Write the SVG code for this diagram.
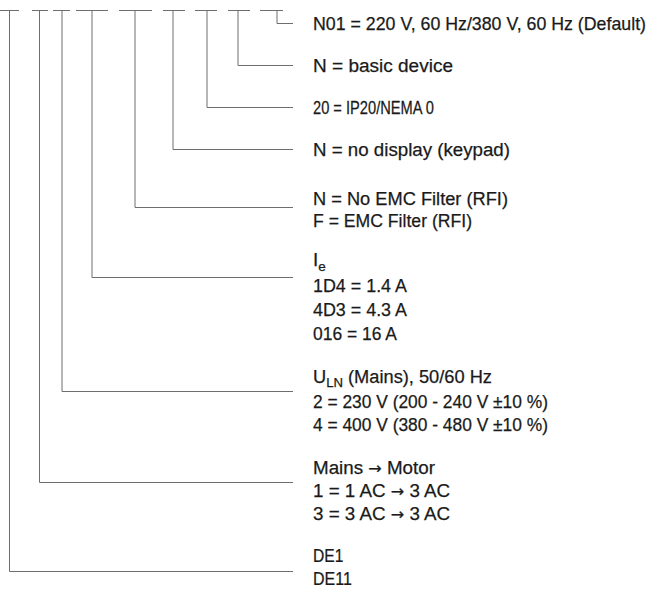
<svg xmlns="http://www.w3.org/2000/svg" width="651" height="591" viewBox="0 0 651 591">
<style>
  .ln { fill: none; stroke: #6e6e6e; stroke-width: 1; }
  .t { font-family: "Liberation Sans", Arial, sans-serif; font-size: 18.8px; fill: #1a1a1a; stroke: #1a1a1a; stroke-width: 0.25px; }
  .sm { font-size: 17.8px; }
  .sub { font-size: 13.5px; }
  .ar { font-family: "DejaVu Sans", sans-serif; font-size: 16px; }
</style>
<rect width="651" height="591" fill="#ffffff"/>
<g id="code-positions" class="ln">
  <path d="M0 10.5H19 M32 10.5H48 M53 10.5H70 M76 10.5H108 M119 10.5H152 M163 10.5H185 M195 10.5H217 M228 10.5H250 M260 10.5H283"/>
</g>
<g id="connectors" class="ln">
  <path d="M9.5 10.5V571.5H293"/>
  <path d="M39.5 10.5V482.5H293"/>
  <path d="M62 10.5V391.5H293"/>
  <path d="M92 10.5V277.5H293"/>
  <path d="M135 10.5V207.5H293"/>
  <path d="M173 10.5V149.5H293"/>
  <path d="M207 10.5V107.5H293"/>
  <path d="M238 10.5V65.5H293"/>
  <path d="M277 10.5V23.5H293"/>
</g>
<g id="voltage" class="t"><text class="sm" x="313" y="30" textLength="333" lengthAdjust="spacingAndGlyphs">N01 = 220 V, 60 Hz/380 V, 60 Hz (Default)</text></g>
<g id="version" class="t"><text x="313" y="72" textLength="140" lengthAdjust="spacingAndGlyphs">N = basic device</text></g>
<g id="protection" class="t"><text transform="translate(313 114) scale(0.78 1)">20 = IP20/NEMA 0</text></g>
<g id="display" class="t"><text x="313" y="156" textLength="197" lengthAdjust="spacingAndGlyphs">N = no display (keypad)</text></g>
<g id="emc-filter" class="t">
  <text x="313" y="205" textLength="195" lengthAdjust="spacingAndGlyphs">N = No EMC Filter (RFI)</text>
  <text x="313" y="227" textLength="159" lengthAdjust="spacingAndGlyphs">F = EMC Filter (RFI)</text>
</g>
<g id="rated-current" class="t">
  <text x="313" y="266">I<tspan class="sub" dy="5">e</tspan></text>
  <text x="313" y="292" textLength="94" lengthAdjust="spacingAndGlyphs">1D4 = 1.4 A</text>
  <text x="313" y="316" textLength="94" lengthAdjust="spacingAndGlyphs">4D3 = 4.3 A</text>
  <text x="313" y="340" textLength="84" lengthAdjust="spacingAndGlyphs">016 = 16 A</text>
</g>
<g id="mains-voltage" class="t">
  <text x="313" y="383" textLength="179" lengthAdjust="spacingAndGlyphs">U<tspan class="sub" dy="4">LN</tspan><tspan dy="-4"> (Mains), 50/60 Hz</tspan></text>
  <text x="313" y="408" textLength="235" lengthAdjust="spacingAndGlyphs">2 = 230 V (200 - 240 V ±10 %)</text>
  <text x="313" y="431" textLength="235" lengthAdjust="spacingAndGlyphs">4 = 400 V (380 - 480 V ±10 %)</text>
</g>
<g id="phases" class="t">
  <text x="313" y="474">Mains <tspan class="ar">→</tspan> Motor</text>
  <text x="313" y="497">1 = 1 AC <tspan class="ar">→</tspan> 3 AC</text>
  <text x="313" y="520">3 = 3 AC <tspan class="ar">→</tspan> 3 AC</text>
</g>
<g id="series" class="t">
  <text transform="translate(313 562) scale(0.83 1)">DE1</text>
  <text transform="translate(313 585) scale(0.85 1)">DE11</text>
</g>
</svg>
